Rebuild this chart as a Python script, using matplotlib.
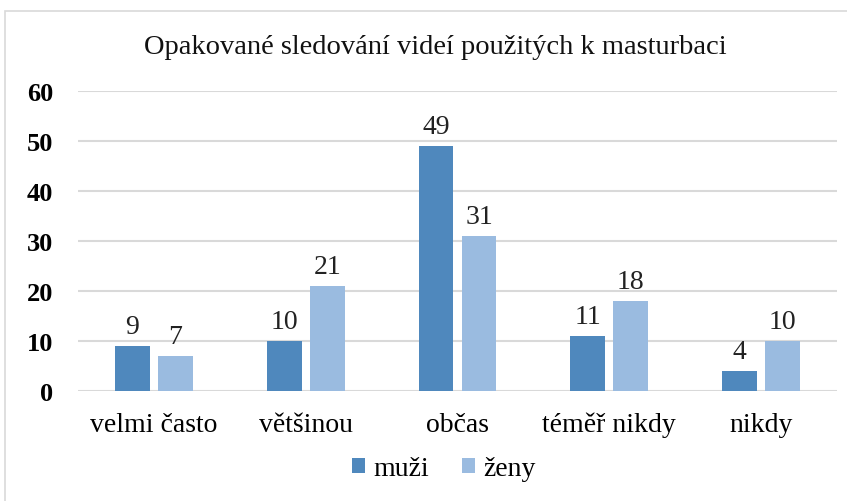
import matplotlib
matplotlib.use("Agg")
import matplotlib.pyplot as plt
import numpy as np
from matplotlib.patches import Rectangle

categories = ["velmi často", "většinou", "občas", "téměř nikdy", "nikdy"]
muzi = [9, 10, 49, 11, 4]
zeny = [7, 21, 31, 18, 10]
series_names = ["muži", "ženy"]
yticks = [0, 10, 20, 30, 40, 50, 60]
title = "Opakované sledování videí použitých k masturbaci"

plt.rcParams['font.family'] = ['Liberation Serif', 'DejaVu Serif']
FS = 20

fig = plt.figure(figsize=(8.47, 5.02), dpi=100)
fig.patches.append(Rectangle((5/847, -0.01), 2, 1 - 12/502 + 0.01, transform=fig.transFigure,
                             fill=False, edgecolor='#d9d9d9', linewidth=1.2))
ax = fig.add_axes([78/847, 1 - 392/502, (837 - 78)/847, 300/502])

x = np.arange(len(categories))
w = 0.23
gap = 0.053
c1, c2 = '#4f88bd', '#9abbe0'
b1 = ax.bar(x - (w + gap)/2, muzi, w, color=c1, label=series_names[0], zorder=3)
b2 = ax.bar(x + (w + gap)/2, zeny, w, color=c2, label=series_names[1], zorder=3)
for bars, vals in ((b1, muzi), (b2, zeny)):
    for r, v in zip(bars, vals):
        ax.annotate(str(v), (r.get_x() + r.get_width()/2, v), xytext=(0, 5),
                    textcoords='offset points', ha='center', va='bottom', fontsize=FS, color='#222222')

ax.set_xlim(-0.5, len(categories) - 0.5)
ax.set_ylim(0, 60)
ax.set_yticks(yticks)
ax.set_yticklabels([str(t) for t in yticks], fontsize=19, fontweight='bold')
ax.set_xticks(x)
ax.set_xticklabels(categories, fontsize=FS)
ax.tick_params(axis='both', length=0)
ax.tick_params(axis='y', pad=18)
ax.tick_params(axis='x', pad=15)
ax.grid(axis='y', color='#d9d9d9', linewidth=1.5, zorder=0)
for s in ax.spines.values():
    s.set_visible(False)
fig.text(435/847, 1 - 48/502, title, fontsize=20.5, ha='center', va='center', color='#111111')

fig.legend(handles=[b1, b2], labels=series_names, loc='center', bbox_to_anchor=(444/847, 1 - 470/502),
           ncol=2, frameon=False, fontsize=FS, handlelength=0.45, handleheight=0.45,
           handletextpad=0.3, columnspacing=1.2)

fig.savefig("out.png", dpi=100)
